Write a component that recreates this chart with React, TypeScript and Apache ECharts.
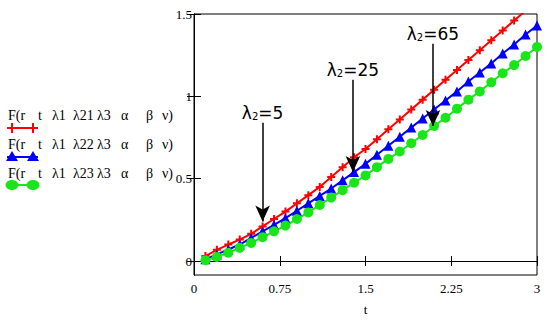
import React, { useEffect, useRef } from "react";
import * as echarts from "echarts";

const tValues = [0.1,0.2,0.3,0.4,0.5,0.6,0.7,0.8,0.9,1.0,1.1,1.2,1.3,1.4,1.5,1.6,1.7,1.8,1.9,2.0,2.1,2.2,2.3,2.4,2.5,2.6,2.7,2.8,2.9,3.0];
const redValues = [0.03,0.068,0.10,0.13,0.165,0.21,0.255,0.30,0.35,0.40,0.45,0.51,0.57,0.63,0.68,0.74,0.80,0.86,0.92,0.98,1.04,1.10,1.16,1.22,1.28,1.34,1.40,1.46,1.52,1.58];
const blueValues = [0.01,0.04,0.07,0.10,0.14,0.18,0.22,0.26,0.305,0.35,0.395,0.44,0.49,0.54,0.59,0.645,0.70,0.755,0.81,0.865,0.92,0.975,1.03,1.09,1.145,1.20,1.26,1.315,1.375,1.43];
const greenValues = [0.005,0.025,0.05,0.08,0.11,0.145,0.18,0.215,0.255,0.295,0.34,0.385,0.43,0.475,0.52,0.57,0.62,0.665,0.715,0.765,0.82,0.87,0.925,0.98,1.03,1.085,1.14,1.19,1.245,1.30];

const yTicks = [0, 0.5, 1, 1.5];
const legendNames = ["λ21", "λ22", "λ23"];
const arrows = [
  { t: 0.6, from: 0.84, to: 0.24, lam: "5" },
  { t: 1.39, from: 1.1, to: 0.54, lam: "25" },
  { t: 2.09, from: 1.32, to: 0.82, lam: "65" },
];

const RED = "#ff0000";
const BLUE = "#0000ff";
const GREEN = "#19e619";
const SERIF = "'Liberation Serif', 'Times New Roman', serif";
const PLUS = "path://M3,0h2v3h3v2h-3v3h-2v-3h-3v-2h3z";

const pts = (vals: number[]) => tValues.map((t, i) => [t, vals[i]]);

export default function App() {
  const ref = useRef<HTMLDivElement>(null);
  useEffect(() => {
    if (!ref.current) return;
    const chart = echarts.init(ref.current, undefined, { renderer: "svg" });
    const tokenX = [8, 38, 52, 73, 97, 121, 146, 162];
    const legendCfg = [
      { color: RED, sym: "plus", textY: 115, lineY: 128 },
      { color: BLUE, sym: "tri", textY: 144, lineY: 157 },
      { color: GREEN, sym: "circ", textY: 173, lineY: 185 },
    ];
    const graphics: any[] = [];
    legendCfg.forEach((c, k) => {
      const tokens = ["F(r", "t", "λ1", legendNames[k], "λ3", "α", "β", "ν)"];
      tokens.forEach((tok, j) => {
        graphics.push({
          type: "text", x: tokenX[j], y: c.textY,
          style: { text: tok, font: `14px ${SERIF}`, fill: "#000", verticalAlign: "middle" },
        });
      });
      graphics.push({ type: "line", shape: { x1: 7, y1: c.lineY, x2: 38, y2: c.lineY }, style: { stroke: c.color, lineWidth: 2 } });
      [12, 33].forEach((mx) => {
        if (c.sym === "plus") {
          graphics.push({ type: "line", shape: { x1: mx, y1: c.lineY - 5, x2: mx, y2: c.lineY + 5 }, style: { stroke: c.color, lineWidth: 2 } });
        } else if (c.sym === "tri") {
          graphics.push({ type: "polygon", shape: { points: [[mx, c.lineY - 6], [mx - 6, c.lineY + 4], [mx + 6, c.lineY + 4]] }, style: { fill: c.color } });
        } else {
          graphics.push({ type: "ellipse", shape: { cx: mx, cy: c.lineY, rx: 6.5, ry: 5 }, style: { fill: c.color } });
        }
      });
    });

    const markData = arrows.map((a) => [
      {
        coord: [a.t, a.from],
        label: {
          show: true, position: "start", distance: 1,
          formatter: `{a|λ}{s|2}{a|=${a.lam}}`,
          rich: {
            a: { fontFamily: "DejaVu Sans", fontSize: 17, color: "#000" },
            s: { fontFamily: "DejaVu Sans", fontSize: 10, color: "#000", verticalAlign: "bottom", padding: [8, 0, 0, 0] },
          },
        },
      },
      { coord: [a.t, a.to] },
    ]);

    const axisCommon = {
      axisLine: { lineStyle: { color: "#000", width: 1 } },
      splitLine: { show: false },
    };

    chart.setOption({
      animation: false,
      grid: { left: 194, right: 13, top: 14, bottom: 44, show: true, borderColor: "#000", borderWidth: 1, backgroundColor: "transparent" },
      xAxis: [
        {
          type: "value", min: 0, max: 3, interval: 0.75, position: "bottom",
          ...axisCommon,
          name: "t", nameLocation: "middle", nameGap: 28,
          nameTextStyle: { fontFamily: SERIF, fontSize: 13, color: "#000" },
          axisTick: { inside: true, length: 5, lineStyle: { color: "#000" } },
          axisLabel: { margin: 7, fontFamily: SERIF, fontSize: 13, color: "#000", formatter: (v: number) => String(v) },
        },
        {
          type: "value", min: 0, max: 3, interval: 0.75, position: "top",
          ...axisCommon,
          axisTick: { inside: true, length: 5, lineStyle: { color: "#000" } },
          axisLabel: { show: false },
        },
      ],
      yAxis: [
        {
          type: "value", min: -0.085, max: 1.5, position: "left",
          ...axisCommon,
          axisTick: { inside: true, length: 7, customValues: yTicks, lineStyle: { color: "#000" } },
          axisLabel: { margin: 2, customValues: yTicks, fontFamily: SERIF, fontSize: 13, color: "#000", padding: [4, 0, 0, 0], formatter: (v: number) => String(v) },
        },
        {
          type: "value", min: -0.085, max: 1.5, position: "right",
          ...axisCommon,
          axisTick: { inside: true, length: 7, customValues: yTicks, lineStyle: { color: "#000" } },
          axisLabel: { show: false },
        },
      ],
      series: [
        {
          type: "line", data: pts(redValues), symbol: PLUS, symbolSize: 8, showAllSymbol: true,
          lineStyle: { color: RED, width: 2 }, itemStyle: { color: RED },
          markLine: {
            silent: true, symbol: ["none", "arrow"], symbolSize: [11, 16],
            lineStyle: { color: "#000", width: 1.5, type: "solid" },
            data: markData,
          },
        },
        {
          type: "line", data: pts(blueValues), symbol: "triangle", symbolSize: 10, showAllSymbol: true,
          lineStyle: { color: BLUE, width: 2 }, itemStyle: { color: BLUE },
        },
        {
          type: "line", data: pts(greenValues), symbol: "circle", symbolSize: 10, showAllSymbol: true,
          lineStyle: { color: GREEN, width: 2 }, itemStyle: { color: GREEN },
        },
      ],
      graphic: graphics,
    });
    return () => chart.dispose();
  }, []);
  return <div ref={ref} style={{ position: "absolute", left: 0, top: 0, width: 550, height: 321 }} />;
}
